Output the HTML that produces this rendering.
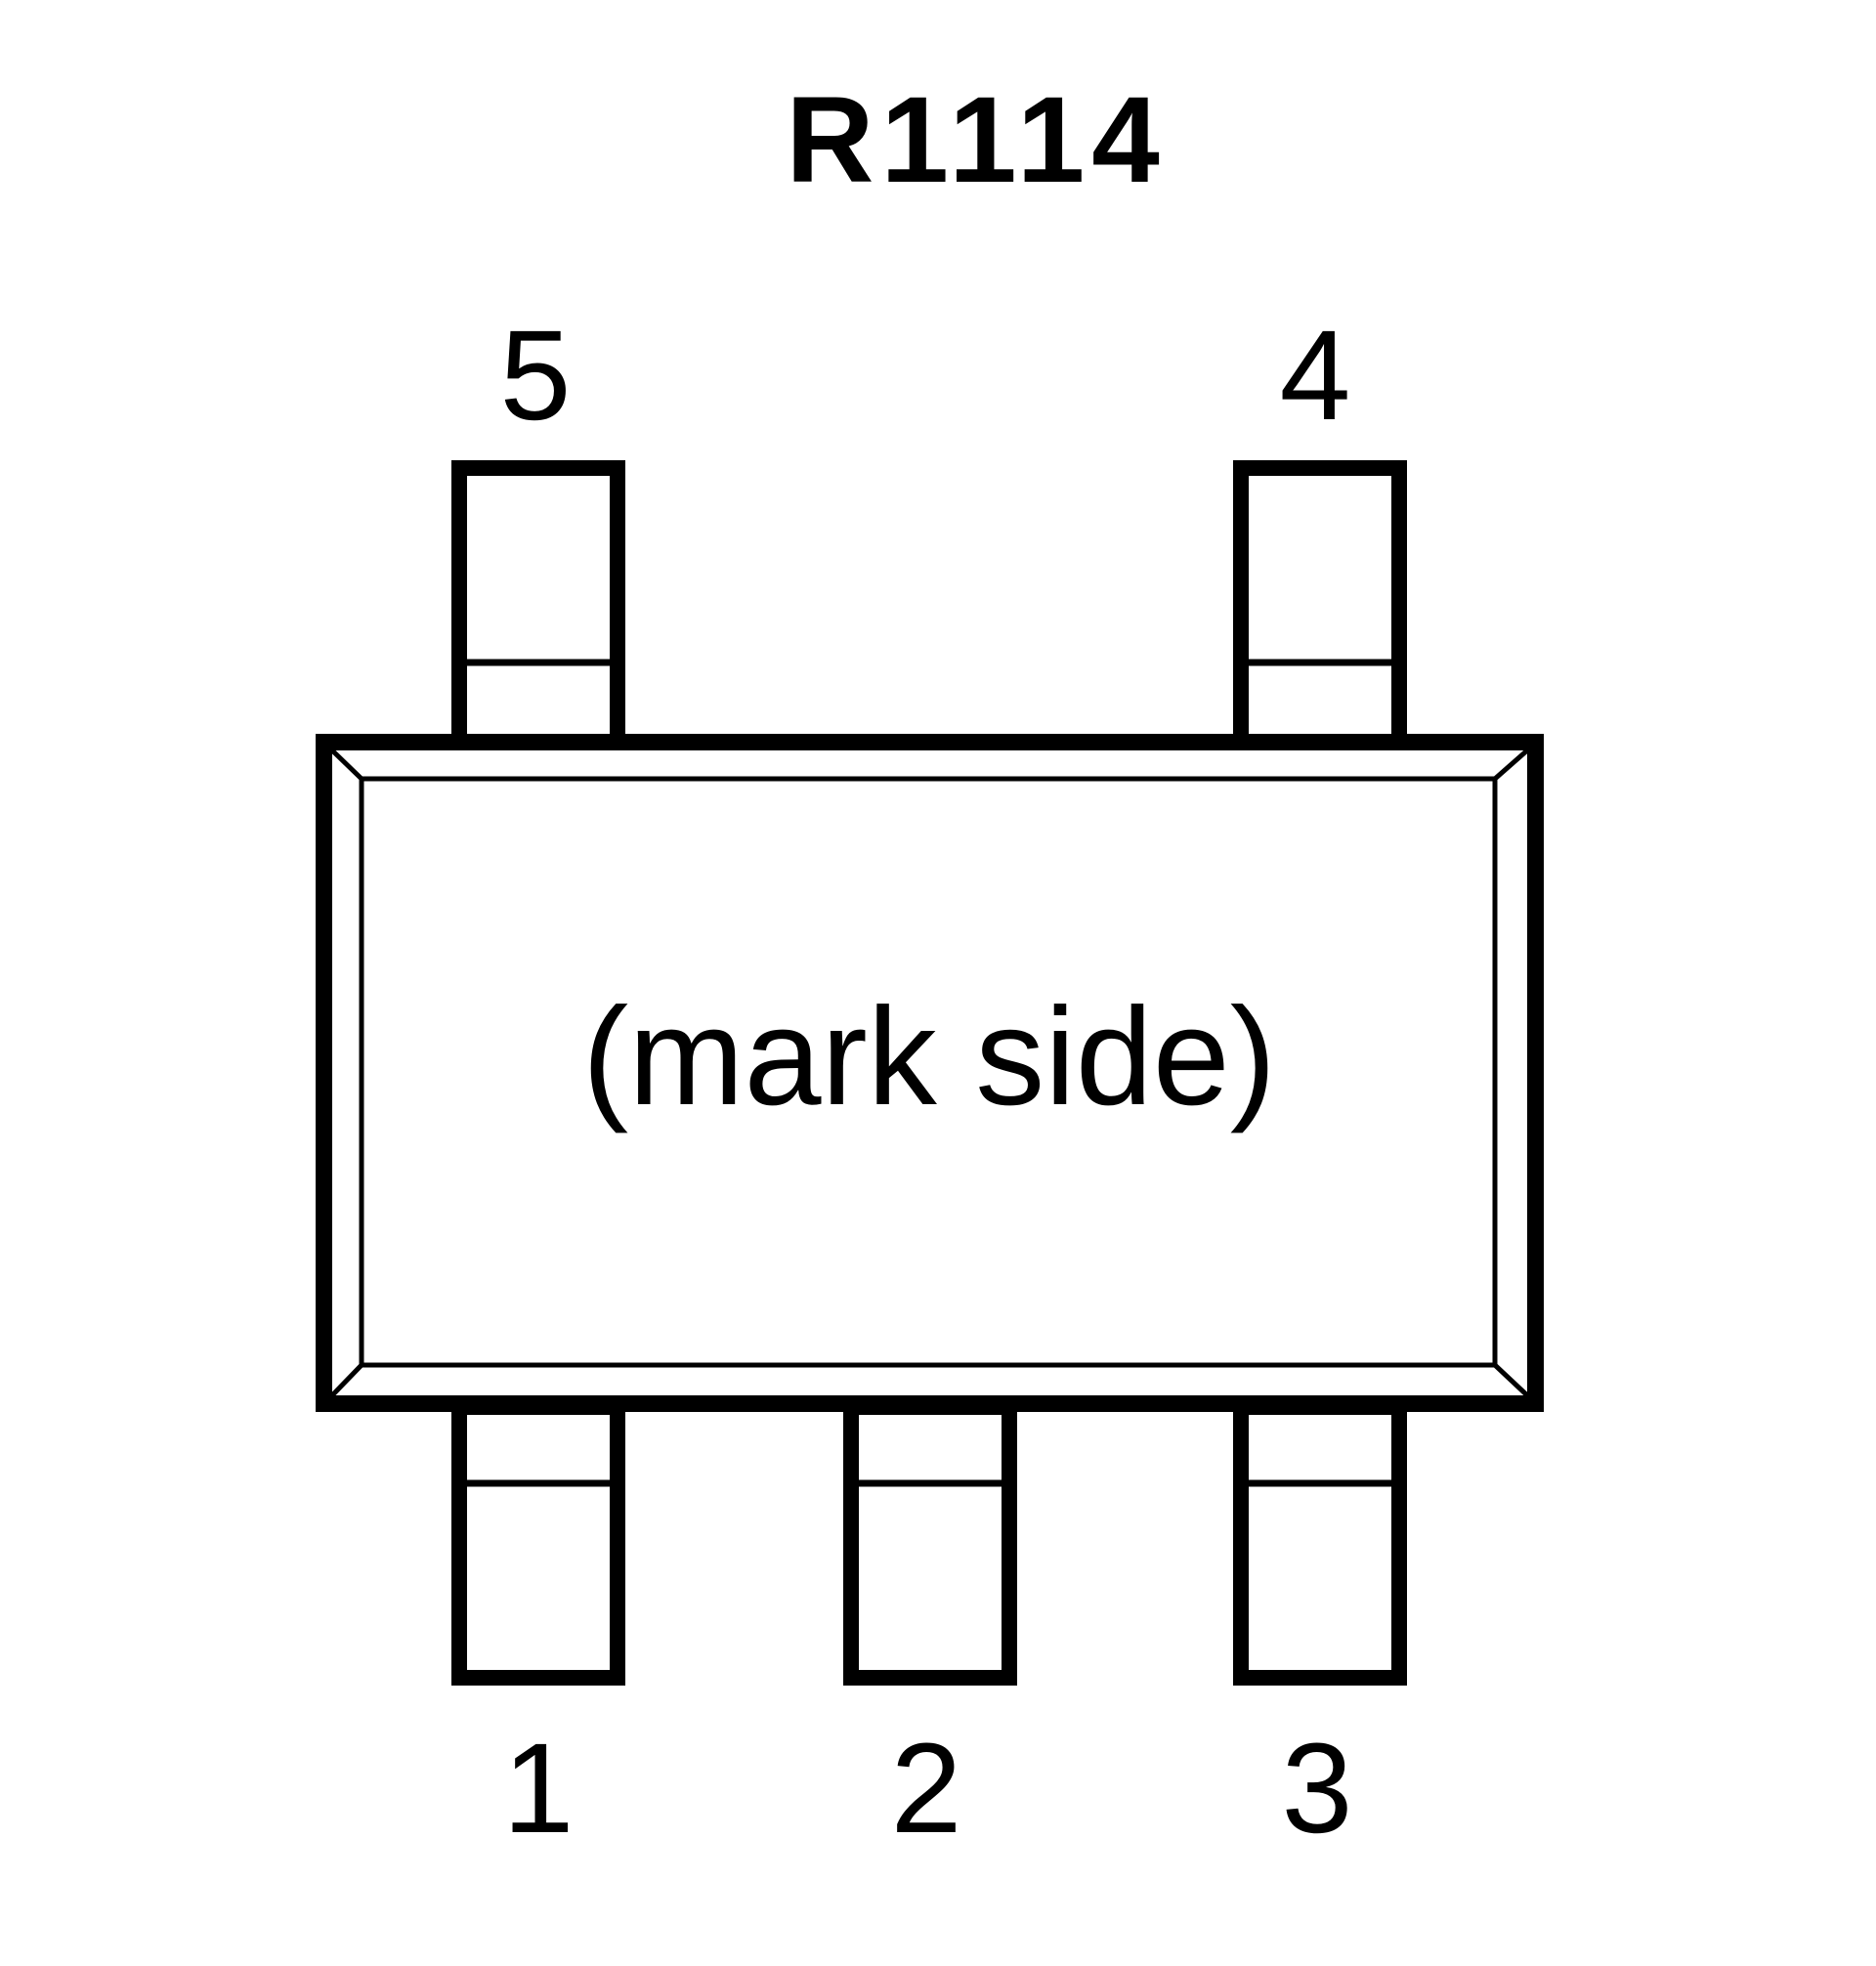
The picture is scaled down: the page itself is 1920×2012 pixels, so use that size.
<!DOCTYPE html>
<html><head><meta charset="utf-8"><style>html,body{margin:0;padding:0;background:#fff}svg{display:block}</style></head>
<body>
<svg width="1920" height="2012" viewBox="0 0 1920 2012" xmlns="http://www.w3.org/2000/svg">
<rect width="1920" height="2012" fill="#fff"/>
<text x="999" y="186" font-family="Liberation Sans, sans-serif" font-weight="bold" font-size="125" text-anchor="middle" letter-spacing="7">R1114</text>
<g fill="none" stroke="#000">
  <rect x="470" y="479" width="162" height="285" stroke-width="16"/>
  <line x1="470" y1="678" x2="632" y2="678" stroke-width="7"/>
  <rect x="1270" y="479" width="162" height="285" stroke-width="16"/>
  <line x1="1270" y1="678" x2="1432" y2="678" stroke-width="7"/>
  <rect x="470" y="1440" width="162" height="277" stroke-width="16"/>
  <line x1="470" y1="1518" x2="632" y2="1518" stroke-width="7"/>
  <rect x="871" y="1440" width="162" height="277" stroke-width="16"/>
  <line x1="871" y1="1518" x2="1033" y2="1518" stroke-width="7"/>
  <rect x="1270" y="1440" width="162" height="277" stroke-width="16"/>
  <line x1="1270" y1="1518" x2="1432" y2="1518" stroke-width="7"/>
</g>
<rect x="331.5" y="759.5" width="1240" height="677" fill="#fff" stroke="#000" stroke-width="17"/>
<g fill="none" stroke="#000" stroke-width="5">
  <rect x="370" y="797" width="1160" height="600"/>
  <line x1="340" y1="768" x2="370" y2="797"/>
  <line x1="1563" y1="768" x2="1530" y2="797"/>
  <line x1="340" y1="1428" x2="370" y2="1397"/>
  <line x1="1563" y1="1428" x2="1530" y2="1397"/>
</g>
<g font-family="Liberation Sans, sans-serif" font-size="131" text-anchor="middle">
  <text x="548" y="429">5</text>
  <text x="1346" y="429">4</text>
  <text x="551" y="1875">1</text>
  <text x="948" y="1875">2</text>
  <text x="1348" y="1875">3</text>
</g>
<text x="951" y="1130" font-family="Liberation Sans, sans-serif" font-size="142" text-anchor="middle">(mark side)</text>
</svg>
</body></html>
